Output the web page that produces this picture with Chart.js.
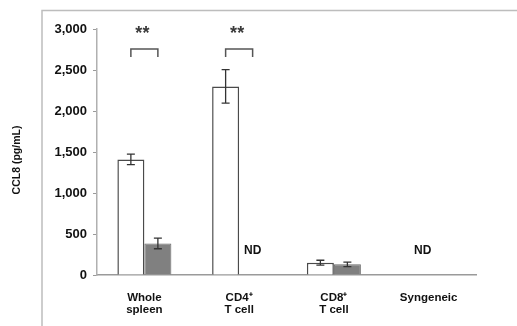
<!DOCTYPE html>
<html>
<head>
<meta charset="utf-8">
<script src="https://cdn.jsdelivr.net/npm/chart.js@4/dist/chart.umd.min.js"></script>
<style>
    html, body { margin: 0; padding: 0; background: #fff; }
    #wrap { position: relative; width: 517px; height: 326px; }
</style>
</head>
<body>
<div id="wrap"><canvas id="cclChart" width="517" height="326"></canvas></div>
<script>
// Chart values
const categories = [['Whole', 'spleen'], ['CD4\u207A', 'T cell'], ['CD8\u207A', 'T cell'], 'Syngeneic'];
const whiteValues = [1410, 2300, 150, null];
const whiteErrors = [65, 205, 30, null];
const grayValues = [385, null, 130, null];
const grayErrors = [65, null, 28, null];
const yTicks = [0, 500, 1000, 1500, 2000, 2500, 3000];
const sigCategories = [0, 1];          // groups with ** bracket
const ndCategories = [1, 3];           // groups marked "ND"

const FONT = "Arial, 'Liberation Sans', sans-serif";

// Error bars, brackets, ND labels, frame and y title
const overlayPlugin = {
    id: 'overlay',
    beforeDraw(chart) {
        const ctx = chart.ctx;
        ctx.save();
        ctx.strokeStyle = '#bdbdbd';
        ctx.lineWidth = 1.5;
        ctx.beginPath();
        ctx.moveTo(42, 326);
        ctx.lineTo(42, 10.5);
        ctx.lineTo(517, 10.5);
        ctx.stroke();
        ctx.restore();
    },
    afterDatasetsDraw(chart) {
        const ctx = chart.ctx;
        const y = chart.scales.y;
        const x = chart.scales.x;
        const errs = [whiteErrors, grayErrors];

        ctx.save();
        // error bars
        ctx.strokeStyle = '#333';
        ctx.lineWidth = 1.3;
        chart.data.datasets.forEach((ds, di) => {
            const meta = chart.getDatasetMeta(di);
            ds.data.forEach((v, i) => {
                if (v === null) return;
                const e = errs[di][i];
                const cx = meta.data[i].x;
                const top = y.getPixelForValue(v + e);
                const bot = y.getPixelForValue(v - e);
                ctx.beginPath();
                ctx.moveTo(cx, top); ctx.lineTo(cx, bot);
                ctx.moveTo(cx - 4, top); ctx.lineTo(cx + 4, top);
                ctx.moveTo(cx - 4, bot); ctx.lineTo(cx + 4, bot);
                ctx.stroke();
            });
        });

        // significance brackets
        const m0 = chart.getDatasetMeta(0);
        const m1 = chart.getDatasetMeta(1);
        ctx.strokeStyle = '#555';
        ctx.lineWidth = 1.5;
        sigCategories.forEach(i => {
            const x0 = m0.data[i].x;
            const x1 = m1.data[i].x;
            const yb = y.getPixelForValue(2755);
            const yl = y.getPixelForValue(2660);
            ctx.beginPath();
            ctx.moveTo(x0, yl); ctx.lineTo(x0, yb); ctx.lineTo(x1, yb); ctx.lineTo(x1, yl);
            ctx.stroke();
            ctx.fillStyle = '#3a3a3a';
            ctx.font = 'bold 18px ' + FONT;
            ctx.textAlign = 'center';
            ctx.textBaseline = 'alphabetic';
            ctx.fillText('**', (x0 + x1) / 2 - 2, y.getPixelForValue(2880));
        });

        // ND labels
        ctx.fillStyle = '#111';
        ctx.font = 'bold 12px ' + FONT;
        ctx.textAlign = 'center';
        ctx.textBaseline = 'middle';
        ndCategories.forEach(i => {
            let cx;
            if (whiteValues[i] !== null) cx = m1.data[i].x;
            else cx = x.getPixelForValue(i) - 6;
            ctx.fillText('ND', cx, y.getPixelForValue(300));
        });

        // y axis title
        ctx.translate(17, 160);
        ctx.rotate(-Math.PI / 2);
        ctx.font = 'bold 10.5px ' + FONT;
        ctx.fillStyle = '#111';
        ctx.fillText('CCL8 (pg/mL)', 0, 0);
        ctx.restore();
    }
};

new Chart(document.getElementById('cclChart'), {
    type: 'bar',
    data: {
        labels: categories,
        datasets: [{
            label: 'Series 1',
            data: whiteValues,
            backgroundColor: '#ffffff',
            borderColor: '#4a4a4a',
            borderWidth: 1.5,
            borderSkipped: 'bottom'
        }, {
            label: 'Series 2',
            data: grayValues,
            backgroundColor: '#808080',
            borderColor: '#6a6a6a',
            borderWidth: 1,
            borderSkipped: 'bottom'
        }]
    },
    options: {
        responsive: false,
        animation: false,
        devicePixelRatio: 1,
        layout: { padding: { left: 0, top: 29, right: 41, bottom: 0 } },
        datasets: { bar: { barPercentage: 1, categoryPercentage: 0.57 } },
        plugins: {
            legend: { display: false },
            tooltip: { enabled: false }
        },
        scales: {
            x: {
                grid: { display: false },
                border: { display: true, color: '#9a9a9a', width: 1.5 },
                ticks: {
                    color: '#111',
                    font: { family: FONT, size: 11.5, weight: 'bold', lineHeight: 1.12 },
                    padding: 8,
                    maxRotation: 0
                },
                afterFit: (scale) => { scale.height = 51; }
            },
            y: {
                min: 0,
                max: 3000,
                afterBuildTicks: (scale) => { scale.ticks = yTicks.map(v => ({ value: v })); },
                grid: { drawOnChartArea: false, tickLength: 4, color: '#9a9a9a' },
                border: { display: true, color: '#b0b0b0', width: 1.5 },
                ticks: {
                    color: '#111',
                    padding: 6,
                    font: { family: FONT, size: 13, weight: 'bold' },
                    callback: (v) => v.toLocaleString('en-US')
                },
                afterFit: (scale) => { scale.width = 97; }
            }
        }
    },
    plugins: [overlayPlugin]
});
</script>
</body>
</html>
